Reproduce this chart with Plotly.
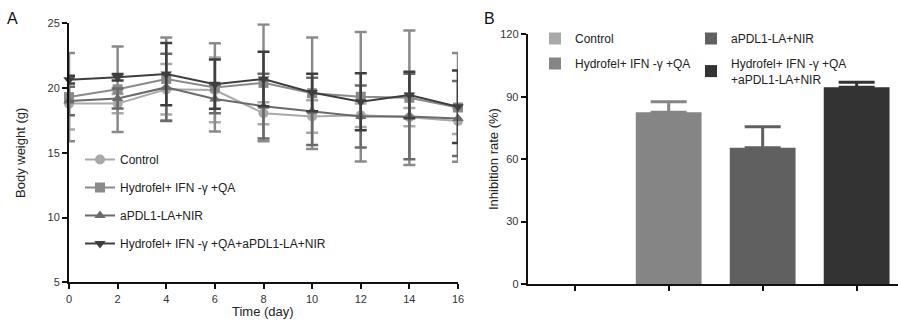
import plotly.graph_objects as go

days = [0, 2, 4, 6, 8, 10, 12, 14, 16]
names = ["Control", "Hydrofel+ IFN -γ +QA", "aPDL1-LA+NIR", "Hydrofel+ IFN -γ +QA+aPDL1-LA+NIR"]
control = [18.8, 18.8, 19.9, 19.85, 18.05, 17.8, 17.9, 17.75, 17.45]
control_err = [2.0, 0.75, 1.95, 2.5, 0.85, 1.25, 0.9, 0.7, 1.0]
hydro = [19.3, 19.9, 20.7, 20.05, 20.4, 19.6, 19.33, 19.25, 18.5]
hydro_err = [3.4, 3.3, 3.2, 3.4, 4.5, 4.3, 5.0, 5.2, 4.2]
apdl = [19.0, 19.2, 20.05, 19.15, 18.6, 18.2, 17.8, 17.8, 17.65]
apdl_err = [1.1, 0.77, 2.6, 1.1, 2.5, 2.6, 2.4, 3.3, 2.9]
combo = [20.65, 20.83, 21.08, 20.3, 20.7, 19.65, 18.95, 19.46, 18.55]
combo_err = [0.3, 0.25, 2.4, 1.9, 2.1, 1.45, 2.2, 1.8, 2.8]

bar_groups = ["Control", "Hydrofel+ IFN -γ +QA", "aPDL1-LA+NIR", "Hydrofel+ IFN -γ +QA<br>+aPDL1-LA+NIR"]
inhibition = [0, 82.5, 65.5, 94.5]
inhibition_err = [0, 5.1, 10.1, 2.5]

line_colors = ["#a9a9a9", "#8a8a8a", "#6a6a6a", "#3e3e3e"]
bar_colors = ["#a9a9a9", "#858585", "#606060", "#333333"]
symbols = ["circle", "square", "triangle-up", "triangle-down"]

W, H = 898, 320
fig = go.Figure()
series = [(control, control_err), (hydro, hydro_err), (apdl, apdl_err), (combo, combo_err)]
for i, (vals, errs) in enumerate(series):
    fig.add_trace(go.Scatter(
        x=days, y=vals, name=names[i], mode="lines+markers",
        line=dict(color=line_colors[i], width=2),
        marker=dict(symbol=symbols[i], size=10, color=line_colors[i]),
        error_y=dict(type="data", array=errs, color=line_colors[i], thickness=2.5, width=6),
        cliponaxis=False, legend="legend", legendgroup="g%d" % i,
        xaxis="x", yaxis="y"))

# bar legend positions (pixel top-left of each legend box)
bar_legend_pos = [(535, 24), (535, 49), (691, 24), (691, 49)]
for i in range(4):
    fig.add_trace(go.Bar(
        x=[i], y=[inhibition[i]], name=bar_groups[i],
        marker=dict(color=bar_colors[i], line=dict(width=0)),
        error_y=dict(type="data", array=[inhibition_err[i]], visible=inhibition[i] > 0,
                     color=bar_colors[i], thickness=3, width=18, symmetric=False,
                     arrayminus=[0]),
        width=0.7, legend="legend%d" % (i + 2),
        xaxis="x2", yaxis="y2"))

axis_common = dict(showline=True, linecolor="#111111", linewidth=2, ticks="outside",
                   ticklen=5, tickwidth=2, tickcolor="#111111", showgrid=False, zeroline=False,
                   tickfont=dict(size=11, color="#333333"))

layout_legends = {}
for i, (px, py) in enumerate(bar_legend_pos):
    layout_legends["legend%d" % (i + 2)] = dict(
        x=px / W, y=1 - py / H, xanchor="left", yanchor="top",
        bgcolor="rgba(0,0,0,0)", font=dict(size=12, color="#222222"))

fig.update_layout(
    width=W, height=H,
    margin=dict(l=0, r=0, t=0, b=0, autoexpand=False),
    paper_bgcolor="white", plot_bgcolor="white",
    font=dict(family="Liberation Sans, Arial, sans-serif", size=12, color="#222222"),
    showlegend=True,
    xaxis=dict(domain=[69/W, 458/W], range=[0, 16], tickvals=list(range(0, 17, 2)),
               anchor="y", **axis_common),
    yaxis=dict(domain=[1 - 282.3/H, 1 - 23.3/H], range=[5, 25], tickvals=[5, 10, 15, 20, 25],
               anchor="x", **axis_common),
    xaxis2=dict(domain=[527.7/W, 1.0], range=[-0.5, 3.44], tickvals=[0, 1, 2, 3],
                showticklabels=False, anchor="y2", **axis_common),
    yaxis2=dict(domain=[1 - 284/H, 1 - 34.3/H], range=[0, 120], tickvals=[0, 30, 60, 90, 120],
                anchor="x2", **axis_common),
    legend=dict(x=80/W, y=1 - 145/H, xanchor="left", yanchor="top",
                bgcolor="rgba(0,0,0,0)", font=dict(size=12, color="#222222"),
                tracegroupgap=9, itemwidth=30),
    bargap=0.3,
    annotations=[
        dict(text="A", x=12/W, y=1 - 18/H, xref="paper", yref="paper", showarrow=False,
             font=dict(size=16, color="#111111"), xanchor="center", yanchor="middle"),
        dict(text="B", x=490/W, y=1 - 18/H, xref="paper", yref="paper", showarrow=False,
             font=dict(size=16, color="#111111"), xanchor="center", yanchor="middle"),
        dict(text="Time (day)", x=263/W, y=1 - 311/H, xref="paper", yref="paper", showarrow=False,
             font=dict(size=13, color="#222222"), xanchor="center", yanchor="middle"),
        dict(text="Body weight (g)", x=20/W, y=1 - 153/H, xref="paper", yref="paper", showarrow=False,
             textangle=-90, font=dict(size=13, color="#222222"), xanchor="center", yanchor="middle"),
        dict(text="Inhibition rate (%)", x=493/W, y=1 - 159/H, xref="paper", yref="paper", showarrow=False,
             textangle=-90, font=dict(size=13, color="#222222"), xanchor="center", yanchor="middle"),
    ],
    **layout_legends,
)

fig.write_html("out.html", config={"displayModeBar": False},
               post_script="document.body.style.margin='0';document.body.style.overflow='hidden';")
